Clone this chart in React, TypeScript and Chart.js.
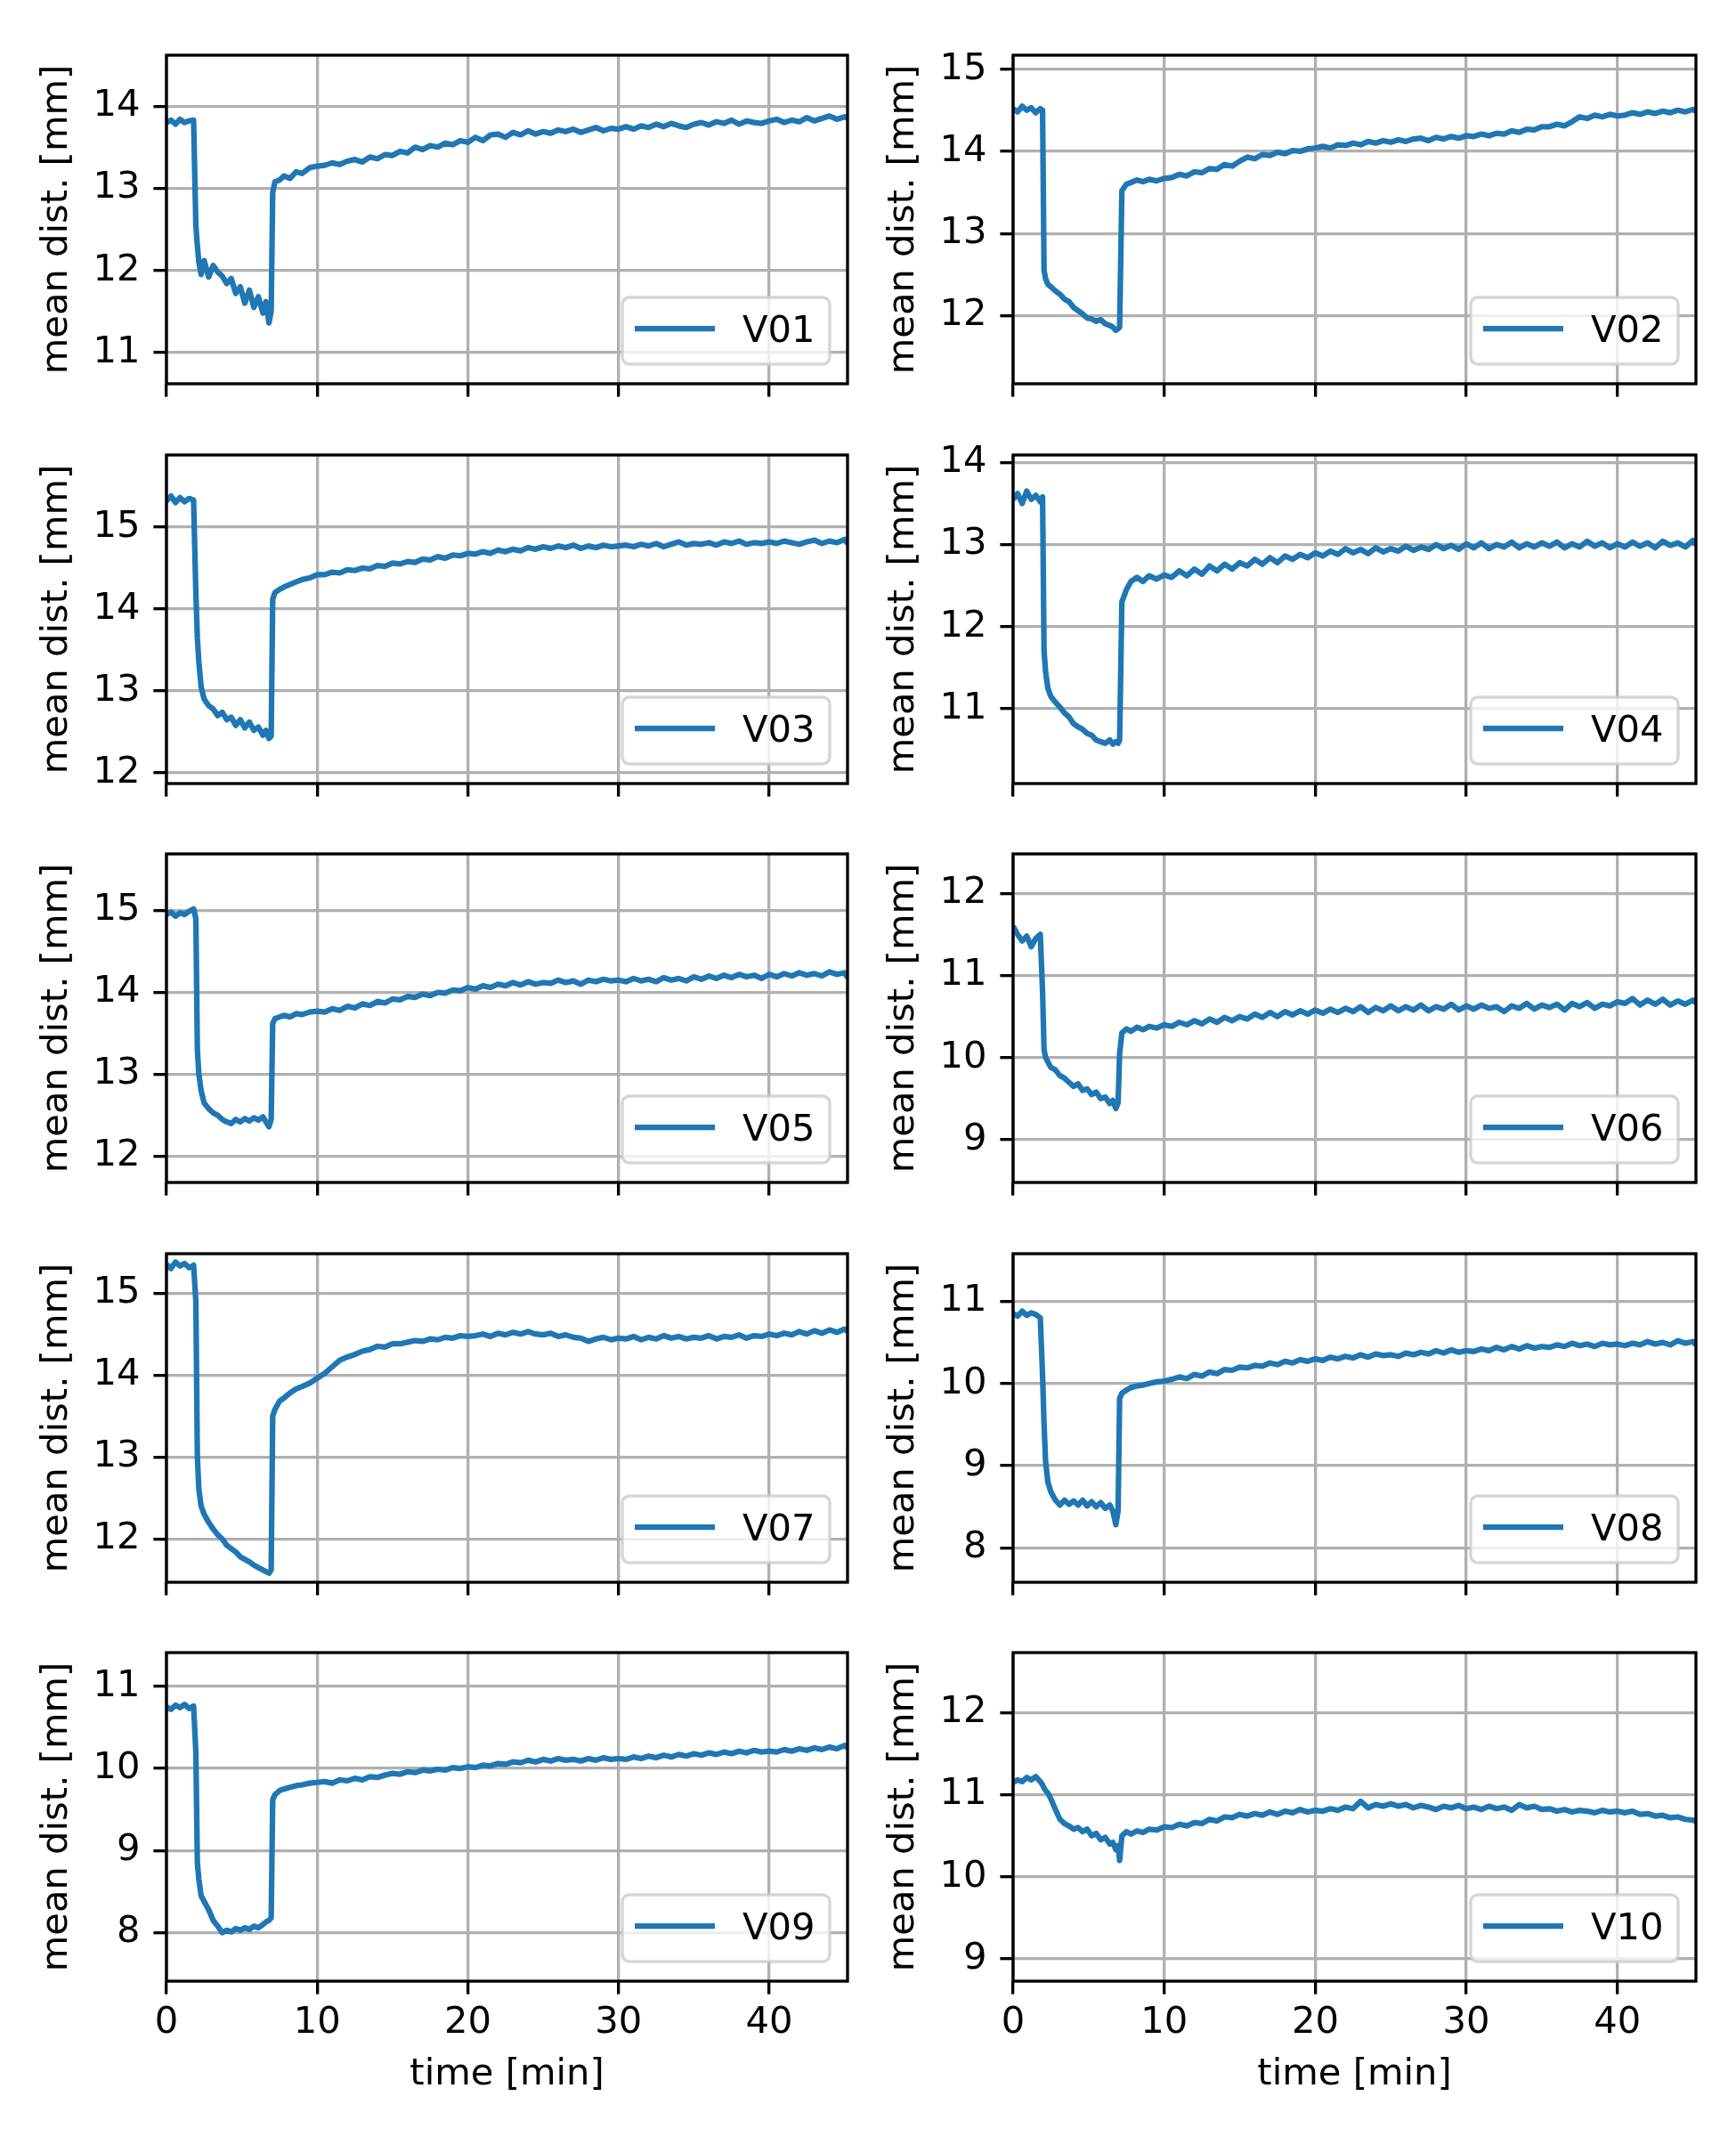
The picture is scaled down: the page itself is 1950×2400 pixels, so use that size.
import React, { useEffect, useRef } from "react";
import { Chart, registerables } from "chart.js";
import type { ChartConfiguration, Plugin } from "chart.js";

Chart.register(...registerables);

// sample times [min], dense around the two steps at ~2 and ~7 min
const timeMin = [
  0, 0.3, 0.6, 0.9, 1.2, 1.5, 1.8, 1.95, 2.05, 2.15,
  2.3, 2.5, 2.8, 3.1, 3.4, 3.7, 4.0, 4.3, 4.6, 4.9,
  5.2, 5.5, 5.8, 6.1, 6.4, 6.6, 6.8, 6.95, 7.05, 7.2,
  7.5, 7.8, 8.2, 8.6, 9.0, 9.5, 10.0,
  10.5, 11, 11.5, 12, 12.5, 13, 13.5, 14, 14.5, 15,
  15.5, 16, 16.5, 17, 17.5, 18, 18.5, 19, 19.5, 20,
  20.5, 21, 21.5, 22, 22.5, 23, 23.5, 24, 24.5, 25,
  25.5, 26, 26.5, 27, 27.5, 28, 28.5, 29, 29.5, 30,
  30.5, 31, 31.5, 32, 32.5, 33, 33.5, 34, 34.5, 35,
  35.5, 36, 36.5, 37, 37.5, 38, 38.5, 39, 39.5, 40,
  40.5, 41, 41.5, 42, 42.5, 43, 43.5, 44, 44.5, 45,
  45.2,
];

// mean distance [mm] per recording
const v01 = [
  13.80, 13.83, 13.78, 13.84, 13.80, 13.82, 13.83, 12.55, 12.30, 12.10,
  11.95, 12.12, 11.92, 12.06, 11.98, 11.93, 11.84, 11.90, 11.72, 11.80,
  11.60, 11.76, 11.55, 11.68, 11.48, 11.62, 11.36, 11.50, 12.95, 13.08,
  13.10, 13.15, 13.12, 13.20, 13.18, 13.25, 13.27,
  13.28, 13.31, 13.29, 13.33, 13.35, 13.32, 13.38, 13.36, 13.41, 13.40,
  13.45, 13.43, 13.50, 13.47, 13.52, 13.50, 13.55, 13.53, 13.58, 13.56,
  13.62, 13.58, 13.65, 13.66, 13.62, 13.68, 13.65, 13.70, 13.66, 13.69,
  13.67, 13.71, 13.69, 13.72, 13.68, 13.71, 13.74, 13.70, 13.73, 13.72,
  13.75, 13.72, 13.76, 13.74, 13.78, 13.75, 13.79, 13.76, 13.74, 13.78,
  13.80, 13.77, 13.81, 13.79, 13.83, 13.78, 13.82, 13.80, 13.79, 13.82,
  13.84, 13.80, 13.83, 13.81, 13.86, 13.82, 13.85, 13.88, 13.84, 13.87,
  13.86,
];
const v02 = [
  14.52, 14.48, 14.55, 14.50, 14.53, 14.47, 14.52, 14.50, 12.55, 12.45,
  12.38, 12.35, 12.30, 12.26, 12.20, 12.17, 12.10, 12.06, 12.02, 11.97,
  11.96, 11.93, 11.95, 11.90, 11.88, 11.86, 11.82, 11.84, 11.86, 13.52,
  13.60, 13.62, 13.65, 13.63, 13.66, 13.64, 13.67,
  13.68, 13.72, 13.70, 13.75, 13.74, 13.79, 13.78, 13.84, 13.82, 13.88,
  13.93, 13.91, 13.96, 13.95, 13.99, 13.97, 14.01, 14.00, 14.03, 14.04,
  14.06, 14.04, 14.08, 14.07, 14.10, 14.08, 14.12, 14.10, 14.13, 14.11,
  14.14, 14.12, 14.15, 14.16, 14.13, 14.17, 14.15, 14.18, 14.16, 14.19,
  14.18, 14.21, 14.19, 14.22, 14.21, 14.25, 14.23, 14.27, 14.26, 14.30,
  14.30, 14.33, 14.31, 14.36, 14.42, 14.40, 14.44, 14.42, 14.45, 14.43,
  14.44, 14.47, 14.45, 14.48, 14.46, 14.49, 14.47, 14.50, 14.48, 14.51,
  14.49,
];
const v03 = [
  15.32, 15.38, 15.30, 15.36, 15.31, 15.35, 15.33, 14.20, 13.65, 13.35,
  13.05, 12.90, 12.82, 12.78, 12.70, 12.74, 12.65, 12.68, 12.58, 12.65,
  12.55, 12.62, 12.52, 12.56, 12.46, 12.52, 12.42, 12.45, 14.12, 14.20,
  14.24, 14.27, 14.30, 14.33, 14.36, 14.38, 14.42,
  14.42, 14.45, 14.44, 14.48, 14.47, 14.50, 14.49, 14.53, 14.52, 14.56,
  14.55, 14.58, 14.57, 14.61, 14.60, 14.64, 14.62, 14.66, 14.65, 14.68,
  14.67, 14.70, 14.68, 14.72, 14.70, 14.73, 14.71, 14.75, 14.73, 14.76,
  14.74, 14.77, 14.75, 14.78, 14.74, 14.77, 14.75, 14.78, 14.76, 14.77,
  14.78, 14.76, 14.79, 14.77, 14.80, 14.76, 14.79, 14.82, 14.78, 14.80,
  14.79, 14.81, 14.78, 14.82, 14.80, 14.83, 14.79, 14.81, 14.80, 14.82,
  14.80, 14.83, 14.81, 14.79, 14.82, 14.84, 14.80, 14.83, 14.81, 14.85,
  14.80,
];
const v04 = [
  13.55, 13.62, 13.50, 13.65, 13.55, 13.60, 13.52, 13.58, 11.70, 11.45,
  11.25, 11.15, 11.08, 11.02, 10.95, 10.90, 10.82, 10.78, 10.75, 10.70,
  10.68, 10.62, 10.60, 10.58, 10.62, 10.57, 10.60, 10.58, 10.62, 12.30,
  12.45, 12.55, 12.60, 12.55, 12.62, 12.58, 12.63,
  12.60, 12.68, 12.62, 12.70, 12.64, 12.74, 12.68, 12.76, 12.70, 12.78,
  12.74, 12.82, 12.76, 12.84, 12.78, 12.86, 12.82, 12.88, 12.84, 12.90,
  12.86, 12.92, 12.88, 12.95, 12.90, 12.94, 12.89, 12.96, 12.91, 12.95,
  12.92, 12.98, 12.93, 12.97, 12.94, 13.00, 12.95, 12.99, 12.94, 13.01,
  12.96, 13.02, 12.95, 13.00, 12.97, 13.03, 12.96, 13.01, 12.97, 13.02,
  12.98, 13.03, 12.96, 13.01, 12.97, 13.04, 12.98, 13.02, 12.96, 13.01,
  12.97, 13.03, 12.98, 13.02, 12.96, 13.04, 12.99, 13.02, 12.97, 13.05,
  13.00,
];
const v05 = [
  14.95, 14.98, 14.93, 14.97, 14.95, 14.99, 15.02, 14.90, 13.30, 13.00,
  12.80, 12.65, 12.58, 12.53, 12.50, 12.45, 12.42, 12.40, 12.45, 12.42,
  12.46, 12.43, 12.47, 12.44, 12.48, 12.42, 12.36, 12.45, 13.62, 13.68,
  13.70, 13.72, 13.70, 13.74, 13.73, 13.76, 13.77,
  13.76, 13.80, 13.78, 13.83, 13.81, 13.86, 13.84, 13.89, 13.87, 13.92,
  13.91, 13.95, 13.94, 13.98, 13.96, 14.00, 13.99, 14.03, 14.02, 14.06,
  14.04, 14.08, 14.06, 14.10, 14.08, 14.12, 14.09, 14.13, 14.10, 14.12,
  14.11, 14.15, 14.12, 14.14, 14.10, 14.15, 14.13, 14.16, 14.14, 14.15,
  14.13, 14.17, 14.14, 14.16, 14.13, 14.18, 14.15, 14.17, 14.14, 14.19,
  14.16, 14.20, 14.17, 14.21, 14.18, 14.22, 14.19, 14.21, 14.17, 14.22,
  14.19, 14.23, 14.20, 14.24, 14.21, 14.23, 14.20, 14.25, 14.22, 14.24,
  14.18,
];
const v06 = [
  11.60, 11.50, 11.42, 11.48, 11.35, 11.45, 11.50, 10.80, 10.10, 10.00,
  9.95, 9.88, 9.85, 9.78, 9.75, 9.70, 9.65, 9.68, 9.60, 9.62,
  9.55, 9.58, 9.50, 9.52, 9.44, 9.48, 9.38, 9.45, 10.05, 10.30,
  10.35, 10.32, 10.37, 10.34, 10.38, 10.36, 10.40,
  10.38, 10.43, 10.40, 10.45, 10.41, 10.47, 10.43, 10.49, 10.45, 10.50,
  10.47, 10.53, 10.49, 10.55, 10.50, 10.56, 10.52, 10.57, 10.53, 10.58,
  10.54, 10.59, 10.55, 10.60, 10.56, 10.62, 10.55, 10.61, 10.57, 10.63,
  10.57, 10.62, 10.58, 10.64, 10.57, 10.62, 10.59, 10.65, 10.58, 10.63,
  10.59, 10.64, 10.60, 10.62, 10.56, 10.63, 10.60, 10.66, 10.59, 10.64,
  10.61, 10.65, 10.58, 10.66, 10.62, 10.67, 10.60, 10.65, 10.63, 10.68,
  10.66, 10.72, 10.64, 10.70, 10.65, 10.71, 10.64, 10.69, 10.65, 10.70,
  10.67,
];
const v07 = [
  15.35, 15.30, 15.38, 15.33, 15.36, 15.31, 15.34, 14.90, 13.00, 12.60,
  12.40, 12.30, 12.20, 12.12, 12.05, 12.00, 11.92, 11.88, 11.84, 11.78,
  11.75, 11.72, 11.68, 11.65, 11.62, 11.60, 11.58, 11.62, 13.50, 13.58,
  13.68, 13.72, 13.78, 13.83, 13.86, 13.90, 13.96,
  14.02, 14.10, 14.18, 14.22, 14.25, 14.29, 14.31, 14.35, 14.34, 14.38,
  14.38, 14.40, 14.42, 14.41, 14.44, 14.43, 14.46, 14.45, 14.48, 14.47,
  14.48, 14.50, 14.47, 14.51, 14.49, 14.52, 14.50, 14.53, 14.50, 14.49,
  14.51, 14.47, 14.49, 14.46, 14.45, 14.41, 14.44, 14.46, 14.43, 14.45,
  14.44, 14.47, 14.43, 14.46, 14.44, 14.48, 14.45, 14.47, 14.44, 14.46,
  14.45, 14.48, 14.44, 14.47, 14.46, 14.49, 14.45, 14.48, 14.47, 14.50,
  14.48, 14.51, 14.49, 14.53, 14.50, 14.54, 14.51, 14.55, 14.52, 14.56,
  14.53,
];
const v08 = [
  10.85, 10.82, 10.88, 10.83, 10.86, 10.84, 10.80, 10.10, 9.50, 9.05,
  8.80, 8.68, 8.58, 8.52, 8.58, 8.53, 8.57, 8.52, 8.58, 8.51,
  8.56, 8.50, 8.55, 8.48, 8.52, 8.45, 8.28, 8.45, 9.82, 9.88,
  9.92, 9.95, 9.97, 9.98, 10.00, 10.02, 10.03,
  10.05, 10.08, 10.06, 10.11, 10.09, 10.14, 10.12, 10.17, 10.16, 10.20,
  10.19, 10.22, 10.21, 10.25, 10.23, 10.27, 10.25, 10.29, 10.27, 10.30,
  10.28, 10.32, 10.30, 10.33, 10.31, 10.35, 10.32, 10.36, 10.34, 10.35,
  10.33, 10.37, 10.35, 10.38, 10.36, 10.40, 10.37, 10.41, 10.38, 10.40,
  10.39, 10.42, 10.40, 10.44, 10.41, 10.45, 10.42, 10.46, 10.43, 10.45,
  10.44, 10.47, 10.45, 10.49, 10.46, 10.48, 10.45, 10.49, 10.47, 10.48,
  10.46, 10.49, 10.47, 10.51, 10.48, 10.50, 10.47, 10.52, 10.49, 10.51,
  10.47,
];
const v09 = [
  10.75, 10.72, 10.77, 10.74, 10.78, 10.73, 10.76, 10.20, 8.85, 8.65,
  8.45, 8.38, 8.28, 8.15, 8.08, 8.00, 8.03, 8.01, 8.05, 8.03,
  8.06, 8.04, 8.08, 8.06, 8.10, 8.13, 8.15, 8.18, 9.62, 9.68,
  9.73, 9.75, 9.77, 9.79, 9.80, 9.82, 9.83,
  9.84, 9.82, 9.86, 9.85, 9.88, 9.86, 9.90, 9.89, 9.92, 9.94,
  9.93, 9.96, 9.95, 9.98, 9.97, 9.99, 9.98, 10.01, 10.00, 10.02,
  10.01, 10.04, 10.03, 10.06, 10.05, 10.08, 10.07, 10.10, 10.08, 10.11,
  10.09, 10.12, 10.10, 10.11, 10.09, 10.12, 10.10, 10.13, 10.11, 10.12,
  10.11, 10.14, 10.12, 10.15, 10.13, 10.16, 10.14, 10.17, 10.15, 10.18,
  10.16, 10.19, 10.17, 10.20, 10.18, 10.21, 10.19, 10.22, 10.20, 10.21,
  10.20, 10.23, 10.21, 10.24, 10.22, 10.25, 10.23, 10.26, 10.24, 10.28,
  10.25,
];
const v10 = [
  11.15, 11.18, 11.16, 11.21, 11.18, 11.22, 11.16, 11.12, 11.08, 11.05,
  11.02, 10.95, 10.82, 10.70, 10.65, 10.62, 10.58, 10.60, 10.55, 10.58,
  10.50, 10.53, 10.45, 10.48, 10.40, 10.42, 10.33, 10.38, 10.20, 10.50,
  10.55, 10.52, 10.56, 10.54, 10.58, 10.57, 10.61,
  10.60, 10.64, 10.62, 10.66, 10.65, 10.70, 10.68, 10.73, 10.72, 10.76,
  10.74, 10.77, 10.75, 10.79, 10.76, 10.80, 10.78, 10.82, 10.79, 10.81,
  10.80, 10.83, 10.81, 10.85, 10.83, 10.92, 10.84, 10.88, 10.86, 10.89,
  10.86, 10.88, 10.84, 10.87, 10.85, 10.82, 10.86, 10.84, 10.87, 10.83,
  10.85, 10.82, 10.86, 10.83, 10.85, 10.81, 10.88, 10.84, 10.86, 10.82,
  10.83, 10.80, 10.82, 10.79, 10.81, 10.80, 10.78, 10.81, 10.79, 10.80,
  10.78, 10.80, 10.76, 10.77, 10.74, 10.75, 10.72, 10.73, 10.70, 10.69,
  10.68,
];

const seriesLabels = ["V01", "V02", "V03", "V04", "V05", "V06", "V07", "V08", "V09", "V10"];
const seriesValues = [v01, v02, v03, v04, v05, v06, v07, v08, v09, v10];

// axis limits and ticks per panel
const yMin = [10.62, 11.17, 11.87, 10.09, 11.68, 8.48, 11.47, 7.58, 7.41, 8.73];
const yMax = [14.62, 15.17, 15.88, 14.09, 15.69, 12.48, 15.48, 11.58, 11.41, 12.73];
const yTicks = [
  [11, 12, 13, 14],
  [12, 13, 14, 15],
  [12, 13, 14, 15],
  [11, 12, 13, 14],
  [12, 13, 14, 15],
  [9, 10, 11, 12],
  [12, 13, 14, 15],
  [8, 9, 10, 11],
  [8, 9, 10, 11],
  [9, 10, 11, 12],
];
const xTicks = [0, 10, 20, 30, 40];
const X_MAX = 45.2;

// layout (px), figure is 1950 x 2400
const FONT = "DejaVu Sans";
const FS = 41.67;
const LW = 3.33;
const BLUE = "#1f77b4";
const COL_PLOT_LEFT = [187, 1138];
const COL_PLOT_W = [765, 767];
const ROW_TOP = [62, 511, 959, 1408, 1856];
const PLOT_H = 369;
const Y_AXIS_W = 187;
// must exceed half a tick label + tick padding, otherwise chart.js shrinks the plot
const PAD_TOP = 45;
const PAD_RIGHT = 20;

const font = { family: FONT, size: FS, lineHeight: 1.2 };

const framePlugin: Plugin<"line"> = {
  id: "frame",
  afterDatasetsDraw(chart) {
    const { ctx, chartArea: a } = chart;
    ctx.save();
    ctx.strokeStyle = "#000";
    ctx.lineWidth = LW;
    ctx.strokeRect(a.left, a.top, a.right - a.left, a.bottom - a.top);
    ctx.restore();
  },
  afterDraw(chart) {
    // matplotlib-like legend in the lower right corner
    const { ctx, chartArea: a } = chart;
    const label = String(chart.data.datasets[0].label ?? "");
    const bw = 233;
    const bh = 75;
    const bx = a.right - 20 - bw;
    const by = a.bottom - 22 - bh;
    ctx.save();
    ctx.beginPath();
    ctx.roundRect(bx, by, bw, bh, 8);
    ctx.fillStyle = "rgba(255,255,255,0.8)";
    ctx.fill();
    ctx.lineWidth = 3.5;
    ctx.strokeStyle = "rgba(204,204,204,0.8)";
    ctx.stroke();
    ctx.beginPath();
    ctx.moveTo(bx + 14, by + 35);
    ctx.lineTo(bx + 104, by + 35);
    ctx.strokeStyle = BLUE;
    ctx.lineWidth = 6.25;
    ctx.stroke();
    ctx.fillStyle = "#000";
    ctx.font = `${FS}px "${FONT}"`;
    ctx.textAlign = "left";
    ctx.textBaseline = "alphabetic";
    ctx.fillText(label, bx + 135, by + 50);
    ctx.restore();
  },
};

function Panel({ idx }: { idx: number }) {
  const ref = useRef<HTMLCanvasElement>(null);
  const row = Math.floor(idx / 2);
  const col = idx % 2;
  const bottomRow = row === 4;
  const xAxisH = bottomRow ? 140 : 45;
  const w = Y_AXIS_W + COL_PLOT_W[col] + PAD_RIGHT;
  const h = PAD_TOP + PLOT_H + xAxisH;
  const left = COL_PLOT_LEFT[col] - Y_AXIS_W;
  const top = ROW_TOP[row] - PAD_TOP;

  useEffect(() => {
    if (!ref.current) return;
    const values = seriesValues[idx];
    const config: ChartConfiguration<"line"> = {
      type: "line",
      data: {
        datasets: [
          {
            label: seriesLabels[idx],
            data: timeMin.map((t, k) => ({ x: t, y: values[k] })),
            borderColor: BLUE,
            borderWidth: 6.25,
            borderJoinStyle: "round",
            pointRadius: 0,
            tension: 0,
            fill: false,
            clip: 0,
          },
        ],
      },
      options: {
        animation: false,
        responsive: false,
        maintainAspectRatio: false,
        devicePixelRatio: 1,
        layout: { padding: { top: PAD_TOP, right: PAD_RIGHT, left: 0, bottom: 0 } },
        plugins: { legend: { display: false }, tooltip: { enabled: false } },
        scales: {
          x: {
            type: "linear",
            min: 0,
            max: X_MAX,
            bounds: "data",
            afterBuildTicks: (axis) => {
              axis.ticks = xTicks.map((v) => ({ value: v }));
            },
            afterFit: (axis) => {
              axis.height = xAxisH;
            },
            ticks: { display: bottomRow, font, color: "#000", padding: 7.4, maxRotation: 0, autoSkip: false },
            grid: { color: "#b0b0b0", lineWidth: LW, tickColor: "#000", tickWidth: LW, tickLength: 14.6 },
            border: { display: false },
            title: {
              display: bottomRow,
              text: "time [min]",
              font,
              color: "#000",
              padding: { top: 0, bottom: 10 },
            },
          },
          y: {
            type: "linear",
            min: yMin[idx],
            max: yMax[idx],
            bounds: "data",
            afterBuildTicks: (axis) => {
              axis.ticks = yTicks[idx].map((v) => ({ value: v }));
            },
            afterFit: (axis) => {
              axis.width = Y_AXIS_W;
            },
            ticks: { font, color: "#000", padding: 15, autoSkip: false },
            grid: { color: "#b0b0b0", lineWidth: LW, tickColor: "#000", tickWidth: LW, tickLength: 14.6 },
            border: { display: false },
            title: {
              display: true,
              text: "mean dist. [mm]",
              font,
              color: "#000",
              padding: { top: 39, bottom: 0 },
            },
          },
        },
      },
      plugins: [framePlugin],
    };
    const chart = new Chart(ref.current, config);
    return () => chart.destroy();
  }, [idx, xAxisH]);

  return (
    <canvas
      ref={ref}
      width={w}
      height={h}
      style={{ position: "absolute", left, top, width: w, height: h }}
    />
  );
}

export default function App() {
  return (
    <div style={{ position: "absolute", left: 0, top: 0, width: 1950, height: 2400, background: "#fff" }}>
      {seriesLabels.map((_, i) => (
        <Panel key={i} idx={i} />
      ))}
    </div>
  );
}
